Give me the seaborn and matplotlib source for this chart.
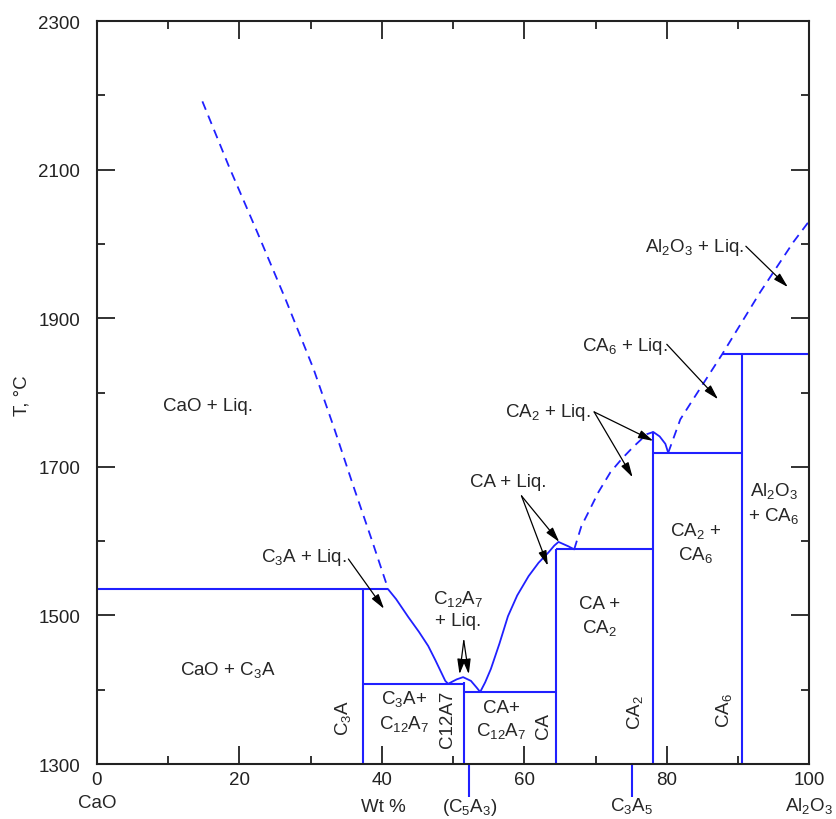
import matplotlib
matplotlib.use("Agg")
import matplotlib.pyplot as plt
import seaborn as sns

sns.set_style("ticks")
plt.rcParams["font.family"] = ["Liberation Sans", "DejaVu Sans"]
plt.rcParams["mathtext.default"] = "regular"

# liquidus pieces (wt% Al2O3, T in C)
left_x = [14.8, 18.5, 22.5, 26.5, 30.4, 33.3, 36.0, 38.5, 40.9]
left_t = [2192, 2105, 2016, 1925, 1832, 1752, 1674, 1604, 1535]
mid_x = [40.9, 42.0, 43.7, 45.2, 46.5, 47.5, 48.3, 48.9, 49.3, 50.5, 51.4,
         52.5, 53.3, 53.8, 54.5, 55.3, 56.5, 57.7, 59.0, 60.6, 62.0, 63.4,
         64.2, 64.8, 66.2, 67.0]
mid_t = [1535, 1522, 1498, 1478, 1459, 1440, 1424, 1412, 1408, 1414, 1417,
         1412, 1403, 1397, 1410, 1428, 1462, 1499, 1527, 1553, 1571, 1585,
         1594, 1599, 1593, 1589]
ca2_x = [67.0, 68.0, 69.0, 70.4, 72.1, 73.7, 75.3, 77.2, 78.1]
ca2_t = [1589, 1620, 1639, 1666, 1693, 1711, 1727, 1744, 1747]
hump_x = [78.1, 79.0, 79.8, 80.2]
hump_t = [1747, 1741, 1731, 1719]
right_x = [80.2, 81.9, 83.7, 87.8, 93.1, 97.8, 100.0]
right_t = [1719, 1764, 1791, 1852, 1935, 2003, 2031]

# invariant lines: (T, x start, x end)
eutectics = [(1535, 0, 40.9), (1408, 37.4, 51.5), (1397, 51.5, 64.5),
             (1589, 64.5, 78.1), (1719, 78.1, 90.6), (1852, 87.8, 100)]
# compounds: (x, T top)
compounds = [(37.4, 1535), (51.5, 1411), (64.5, 1589), (78.1, 1747), (90.6, 1852)]
below_axis = [52.2, 75.1]

blue = "#2020ff"
fig = plt.figure(figsize=(8.36, 8.2), dpi=100)
ax = fig.add_axes([0.116, 0.067, 0.852, 0.906])

dash = dict(color=blue, lw=1.3, dashes=(5, 3.5), sort=False, ax=ax)
solid = dict(color=blue, lw=1.3, sort=False, ax=ax)
sns.lineplot(x=left_x, y=left_t, **dash)
sns.lineplot(x=mid_x, y=mid_t, **solid)
sns.lineplot(x=ca2_x, y=ca2_t, **dash)
sns.lineplot(x=hump_x, y=hump_t, **solid)
sns.lineplot(x=right_x, y=right_t, **dash)

for t, x0, x1 in eutectics:
    ax.hlines(t, x0, x1, color=blue, lw=1.5)
for x, t in compounds:
    ax.vlines(x, 1300, t, color=blue, lw=1.5)
for x in below_axis:
    ax.vlines(x, 1256, 1300, color=blue, lw=1.5, clip_on=False)

ax.set_xlim(0, 100)
ax.set_ylim(1300, 2300)
ax.set_xticks(range(0, 101, 20))
ax.set_xticks(range(10, 100, 20), minor=True)
ax.set_yticks(range(1300, 2301, 200))
ax.set_yticks(range(1400, 2300, 200), minor=True)
ax.tick_params(which="both", direction="in", top=True, right=True,
               labelsize=13.5, colors="#222222", width=1.3)
ax.tick_params(which="major", length=13)
ax.tick_params(which="minor", length=5.5)
ax.tick_params(axis="y", pad=12)
ax.tick_params(axis="x", pad=5)
for s in ax.spines.values():
    s.set_linewidth(1.5)
    s.set_color("#222222")
ax.set_xlabel("")
ax.set_ylabel("")

fs = 13.5
fig.text(0.026, 0.518, "T, °C", rotation=90, ha="center", va="center", fontsize=fs)

bx = ax.get_xaxis_transform()
ax.text(0, -0.052, "CaO", transform=bx, ha="center", va="center", fontsize=fs)
ax.text(40.2, -0.057, "Wt %", transform=bx, ha="center", va="center", fontsize=fs)
ax.text(52.3, -0.057, "(C$_5$A$_3$)", transform=bx, ha="center", va="center", fontsize=fs)
ax.text(75.1, -0.055, "C$_3$A$_5$", transform=bx, ha="center", va="center", fontsize=fs)
ax.text(100, -0.055, "Al$_2$O$_3$", transform=bx, ha="center", va="center", fontsize=fs)

labels = [
    (15.6, 1782, "CaO + Liq.", 0),
    (18.4, 1428, "CaO + C$_3$A", 0),
    (34.6, 1363, "C$_3$A", 90),
    (43.1, 1372, "C$_3$A+\nC$_{12}$A$_7$", 0),
    (49.2, 1362, "C12A7", 90),
    (56.8, 1360, "CA+\nC$_{12}$A$_7$", 0),
    (62.7, 1352, "CA", 90),
    (70.6, 1499, "CA +\nCA$_2$", 0),
    (75.5, 1371, "CA$_2$", 90),
    (84.0, 1599, "CA$_2$ +\nCA$_6$", 0),
    (88.1, 1374, "CA$_6$", 90),
    (95.0, 1652, "Al$_2$O$_3$\n+ CA$_6$", 0),
]
for x, t, s, r in labels:
    ax.text(x, t, s, ha="center", va="center", rotation=r, fontsize=fs,
            linespacing=1.3)

arrow = dict(arrowstyle="-|>,head_length=0.9,head_width=0.25", color="black",
             lw=0.9, shrinkA=0, shrinkB=0)
pointers = [
    ("C$_3$A + Liq.", (29.0, 1579), (35.3, 1576), [(40.3, 1509)]),
    ("C$_{12}$A$_7$\n+ Liq.", (50.7, 1509), (51.5, 1466), [(50.9, 1421), (52.2, 1421)]),
    ("CA + Liq.", (57.7, 1680), (59.6, 1661), [(64.9, 1599), (63.3, 1567)]),
    ("CA$_2$ + Liq.", (63.3, 1774), (69.8, 1774), [(78.1, 1735), (75.2, 1686)]),
    ("CA$_6$ + Liq.", (74.1, 1863), (80.0, 1865), [(87.2, 1791)]),
    ("Al$_2$O$_3$ + Liq.", (83.9, 1997), (91.1, 1997), [(97.0, 1942)]),
]
for s, pos, start, heads in pointers:
    ax.text(pos[0], pos[1], s, ha="center", va="center", fontsize=fs,
            linespacing=1.3)
    for h in heads:
        ax.annotate("", xy=h, xytext=start, arrowprops=arrow)

fig.savefig("out.png", dpi=100)
